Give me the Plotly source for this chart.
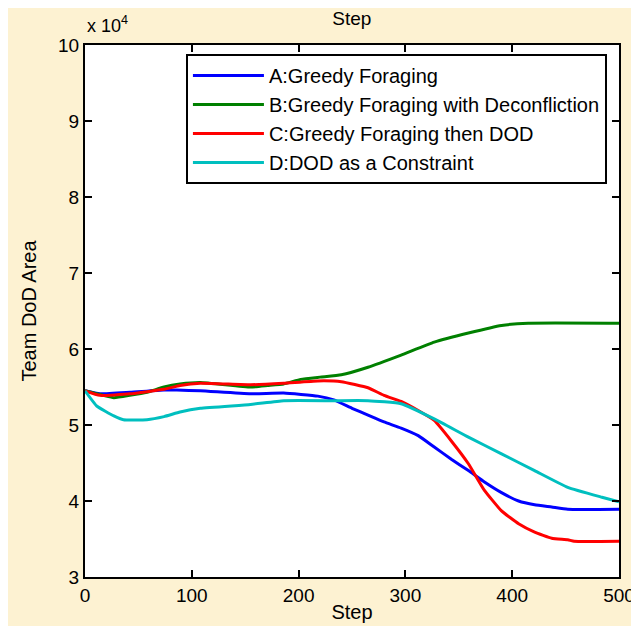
import plotly.graph_objects as go

# Step values and series (Team DoD Area, raw units)
steps_a = [0, 14, 42, 74, 86, 108, 155, 186, 218, 233, 250, 265, 280, 296, 312, 327, 343, 359, 374, 390, 406, 421, 437, 452, 500]
area_a = [54500, 54100, 54300, 54600, 54600, 54500, 54100, 54200, 53800, 53300, 52200, 51300, 50400, 49600, 48600, 47100, 45500, 44000, 42500, 41100, 40000, 39500, 39200, 38900, 38900]

steps_b = [0, 27, 42, 58, 74, 89, 108, 155, 171, 186, 202, 220, 240, 265, 296, 327, 359, 390, 415, 500]
area_b = [54500, 53600, 53900, 54300, 55000, 55400, 55600, 55000, 55200, 55400, 56000, 56300, 56600, 57600, 59200, 60900, 62100, 63100, 63400, 63400]

steps_c = [0, 14, 42, 74, 89, 108, 155, 186, 218, 240, 265, 280, 296, 312, 327, 343, 359, 374, 390, 406, 421, 437, 452, 458, 500]
area_c = [54500, 53900, 54100, 54700, 55200, 55500, 55300, 55500, 55800, 55700, 54900, 53900, 53100, 51900, 50600, 47900, 44900, 41400, 38700, 37000, 35900, 35100, 34900, 34700, 34700]

steps_d = [0, 11, 27, 36, 58, 74, 89, 108, 155, 186, 233, 265, 296, 327, 359, 390, 421, 452, 484, 500]
area_d = [54500, 52500, 51200, 50700, 50700, 51100, 51700, 52200, 52700, 53200, 53200, 53200, 52800, 50800, 48400, 46200, 44000, 41800, 40500, 39900]

names = ["A:Greedy Foraging", "B:Greedy Foraging with Deconfliction",
         "C:Greedy Foraging then DOD", "D:DOD as a Constraint"]
colors = ["#0000FF", "#008000", "#FF0000", "#00BFBF"]

y_tickvals = [30000, 40000, 50000, 60000, 70000, 80000, 90000, 100000]
y_ticktext = ["3", "4", "5", "6", "7", "8", "9", "10"]
x_tickvals = [0, 100, 200, 300, 400, 500]

font_family = "Liberation Sans, Arial, sans-serif"

fig = go.Figure()
for xs, ys, nm, c in zip([steps_a, steps_b, steps_c, steps_d],
                         [area_a, area_b, area_c, area_d], names, colors):
    fig.add_trace(go.Scatter(x=xs, y=ys, mode="lines", name=nm,
                             line=dict(color=c, width=3, shape="spline", smoothing=0.4)))

fig.update_layout(
    width=631, height=618,
    paper_bgcolor="#FDF2D2", plot_bgcolor="white",
    margin=dict(l=77, r=20, t=37, b=49, autoexpand=False),
    font=dict(family=font_family, size=18, color="black"),
    title=dict(text="Step", x=0.545, xanchor="center", y=0.984, yanchor="middle",
               font=dict(size=19)),
    showlegend=True,
    legend=dict(x=0.189, y=0.983, xanchor="left", yanchor="top",
                bgcolor="white", bordercolor="black", borderwidth=2,
                font=dict(size=20), tracegroupgap=0, itemwidth=71,
                entrywidth=404),
    xaxis=dict(range=[0, 500], tickvals=x_tickvals, ticks="inside", ticklen=7,
               tickwidth=1.5, tickcolor="black", showline=True, linecolor="black",
               linewidth=2, mirror="ticks", showgrid=False, zeroline=False,
               automargin=False,
               title=dict(text="Step", standoff=0, font=dict(size=20)),
               tickfont=dict(size=19)),
    yaxis=dict(range=[30000, 100000], tickvals=y_tickvals, ticktext=y_ticktext,
               ticks="inside", ticklen=7, tickwidth=1.5, tickcolor="black",
               showline=True, linecolor="black", linewidth=2, mirror="ticks",
               showgrid=False, zeroline=False, automargin=False,
               title=dict(text="Team DoD Area", standoff=16, font=dict(size=20)),
               tickfont=dict(size=19)),
)

fig.add_annotation(x=0, y=1.0, xref="paper", yref="paper", xanchor="left",
                   yanchor="bottom", yshift=7, xshift=0, showarrow=False,
                   text="x 10<sup>4</sup>", font=dict(size=18))

fig.write_html("out.html")
